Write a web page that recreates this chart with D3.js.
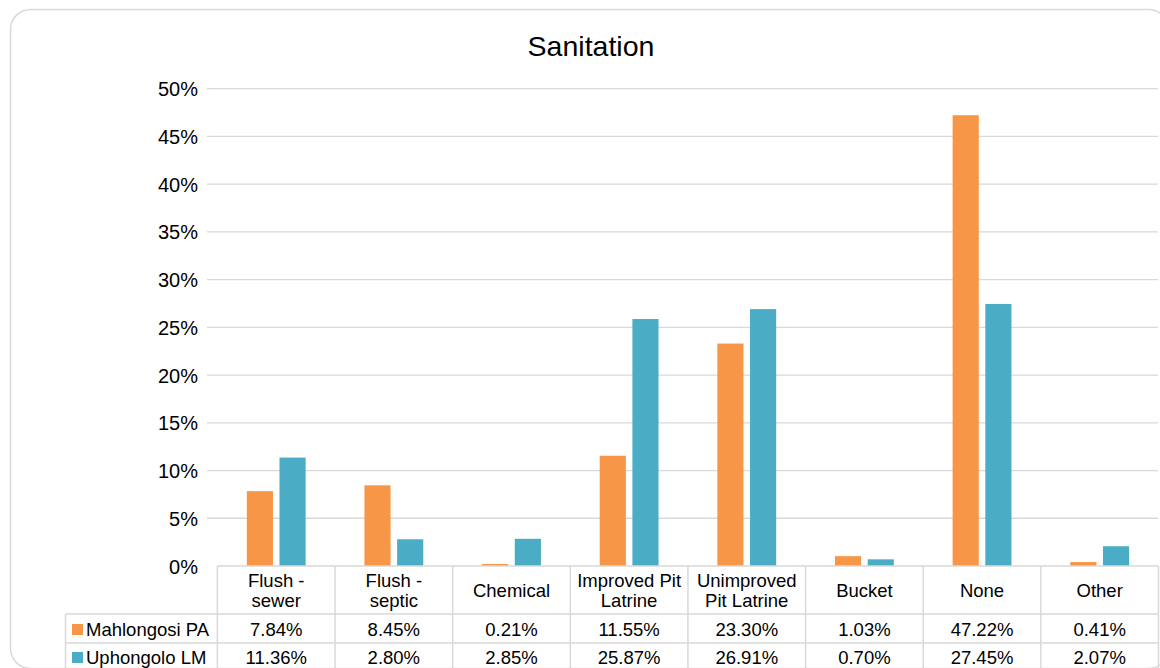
<!DOCTYPE html>
<html><head><meta charset="utf-8">
<script src="https://cdn.jsdelivr.net/npm/d3@7"></script>
<style>body{margin:0;background:#fff}svg{display:block;font-family:"Liberation Sans",Arial,sans-serif}</style>
</head><body><svg id="c" width="1160" height="668"></svg>
<script>
const categories = [["Flush -","sewer"],["Flush -","septic"],["Chemical"],["Improved Pit","Latrine"],["Unimproved","Pit Latrine"],["Bucket"],["None"],["Other"]];
const seriesNames = ["Mahlongosi PA","Uphongolo LM"];
const mahlongosi = [7.84, 8.45, 0.21, 11.55, 23.30, 1.03, 47.22, 0.41];
const uphongolo = [11.36, 2.80, 2.85, 25.87, 26.91, 0.70, 27.45, 2.07];
const colors = ["#F79646","#4BACC6"];
const yTicks = [0,5,10,15,20,25,30,35,40,45,50];

const svg = d3.select("#c");
const gridCol = "#d9d9d9";
svg.append("rect").attr("x",10.5).attr("y",9.5).attr("width",1158).attr("height",659)
  .attr("rx",20).attr("fill","#fff").attr("stroke","#d9d9d9").attr("stroke-width",1.5);

svg.append("text").attr("x",591).attr("y",56).attr("text-anchor","middle")
  .attr("font-size",28.5).attr("fill","#000").text("Sanitation");

const keys = categories.map((c,i)=>i);
const x = d3.scaleBand().domain(keys).range([217.4,1158.5]).padding(0);
const xs = d3.scaleBand().domain([0,1]).range([0,x.bandwidth()]).paddingInner(0.2).paddingOuter(0.9);
const y = d3.scaleLinear().domain([0,50]).range([566,88.7]);

// gridlines
svg.append("g").selectAll("line").data(yTicks.filter(t=>t>0)).join("line")
  .attr("x1",207).attr("x2",1158).attr("y1",d=>y(d)).attr("y2",d=>y(d))
  .attr("stroke",gridCol).attr("stroke-width",1.3);

// y axis labels
const yAxis = d3.axisLeft(y).tickValues(yTicks).tickFormat(d=>d+"%").tickSize(0).tickPadding(0);
const ya = svg.append("g").attr("transform","translate(198,0)").call(yAxis);
ya.select(".domain").remove();
ya.selectAll("text").attr("font-size",20).attr("fill","#000").attr("font-family","Liberation Sans, Arial, sans-serif").attr("dy","0.35em");

// bars
const seriesData = [mahlongosi, uphongolo];
seriesData.forEach((vals,s)=>{
  svg.append("g").selectAll("rect").data(vals).join("rect")
    .attr("x",(d,i)=>x(i)+xs(s)).attr("width",xs.bandwidth())
    .attr("y",d=>y(d)).attr("height",d=>y(0)-y(d))
    .attr("fill",colors[s]);
});

// data table
const tg = svg.append("g").attr("stroke",gridCol).attr("stroke-width",1.5).attr("fill","none");
const tTop = 566, hBot = 614, r1Bot = 643, r2Bot = 672, tLeft = 65.5, pL = 217.4, pR = 1158.5;
tg.append("line").attr("x1",pL).attr("x2",pR).attr("y1",tTop).attr("y2",tTop);
[hBot, r1Bot].forEach(yy=>tg.append("line").attr("x1",tLeft).attr("x2",pR).attr("y1",yy).attr("y2",yy));
tg.append("line").attr("x1",tLeft).attr("x2",tLeft).attr("y1",hBot).attr("y2",r2Bot);
keys.concat([8]).forEach(i=>{
  const xx = i<8 ? x(i) : pR;
  tg.append("line").attr("x1",xx).attr("x2",xx).attr("y1",tTop).attr("y2",r2Bot);
});

// category labels
const cg = svg.append("g").attr("font-size",18.5).attr("fill","#000").attr("text-anchor","middle");
categories.forEach((lines,i)=>{
  const cx = x(i)+x.bandwidth()/2;
  const t = cg.append("text").attr("x",cx);
  if(lines.length===1){
    t.append("tspan").attr("x",cx).attr("y",596.5).text(lines[0]);
  } else {
    t.append("tspan").attr("x",cx).attr("y",586.5).text(lines[0]);
    t.append("tspan").attr("x",cx).attr("y",607).text(lines[1]);
  }
});

// rows
const rowY = [630, 658];
seriesData.forEach((vals,s)=>{
  svg.append("rect").attr("x",72).attr("y",rowY[s]-6).attr("width",11).attr("height",11).attr("fill",colors[s]);
  svg.append("text").attr("x",86).attr("y",rowY[s]).attr("dy","0.35em").attr("font-size",18.5).attr("fill","#000").text(seriesNames[s]);
  svg.append("g").selectAll("text").data(vals).join("text")
    .attr("x",(d,i)=>x(i)+x.bandwidth()/2).attr("y",rowY[s]).attr("dy","0.35em")
    .attr("text-anchor","middle").attr("font-size",18.5).attr("fill","#000")
    .text(d=>d.toFixed(2)+"%");
});
</script></body></html>
